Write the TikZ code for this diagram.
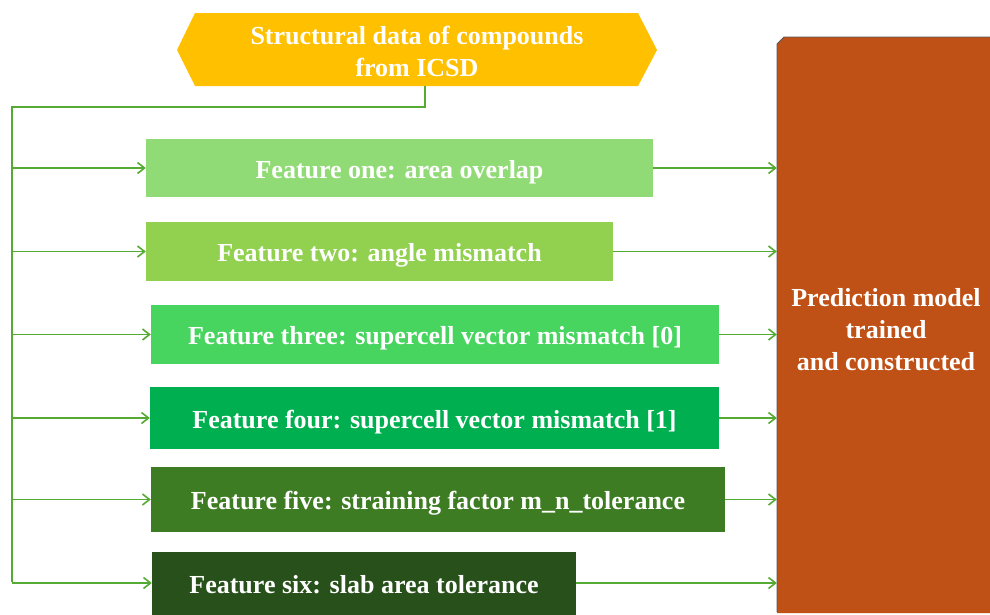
\documentclass[tikz,border=0pt]{standalone}
\usepackage{fontspec}
\setmainfont{Liberation Serif}
\usetikzlibrary{arrows.meta}
\definecolor{hexc}{HTML}{FFC000}
\definecolor{cone}{HTML}{91DB76}
\definecolor{ctwo}{HTML}{92D050}
\definecolor{cthree}{HTML}{47D45F}
\definecolor{cfour}{HTML}{00B050}
\definecolor{cfive}{HTML}{3E7C24}
\definecolor{csix}{HTML}{27501A}
\definecolor{modc}{HTML}{BF5016}
\definecolor{linec}{HTML}{55AA33}
\tikzset{
  fbox/.style={inner sep=0pt, text=white, font=\fontsize{26}{30}\selectfont\bfseries},
  fline/.style={fbox, text height=20pt, text depth=0pt},
  conn/.style={draw=linec, line width=1.8pt},
  arr/.style={conn, -{Straight Barb[length=7pt,width=11pt,line width=1.6pt]}},
}
\begin{document}
\begin{tikzpicture}[x=1pt,y=-1pt]
\useasboundingbox (0,0) rectangle (990,614);
% source hexagon
\node (src) [inner sep=0pt, minimum width=480, minimum height=73] at (417,49.5) {};
\fill[hexc] (177,50) -- (195,13) -- (638,13) -- (657,50) -- (638,86) -- (195,86) -- cycle;
\node[fbox, align=center, font=\fontsize{26}{32}\selectfont\bfseries] at (417,51) {Structural data of compounds\\from ICSD};
% model box
\node (model) [inner sep=0pt, minimum width=218, minimum height=576] at (886,325) {};
\fill[modc] (777,44) -- (784,37) -- (995,37) -- (995,613) -- (777,613) -- cycle;
\draw[gray!70!black, line width=0.8pt] (777,612) -- (777,44) -- (784,37) -- (995,37);
\node[fbox, align=center, font=\fontsize{26}{32}\selectfont\bfseries] at (886,330) {Prediction model\\trained\\and constructed};
% feature boxes
\fill[cone]   (146,139) rectangle (653,197);
\fill[ctwo]   (146,222) rectangle (613,281);
\fill[cthree] (151,305) rectangle (719,364);
\fill[cfour]  (150,387) rectangle (719,449);
\fill[cfive]  (151,467) rectangle (725,532);
\fill[csix]   (152,552) rectangle (576,620);
\node (f1) [fline, minimum width=507, minimum height=58] at (399.5,168) {Feature one: area overlap};
\node (f2) [fline, minimum width=467, minimum height=59] at (379.5,251.5) {Feature two: angle mismatch};
\node (f3) [fline, minimum width=568, minimum height=59] at (435,334.5) {Feature three: supercell vector mismatch [0]};
\node (f4) [fline, minimum width=569, minimum height=62] at (434.5,418) {Feature four: supercell vector mismatch [1]};
\node (f5) [fline, minimum width=574, minimum height=65] at (438,499.5) {Feature five: straining factor m\_n\_tolerance};
\node (f6) [fline, minimum width=424, minimum height=58] at (364,583) {Feature six: slab area tolerance};
% trunk
\coordinate (j) at (425,86);
\coordinate (t) at (12,107);
\coordinate (tb) at (12,582);
\draw[conn] (j) |- (t) -- (tb);
\draw[arr] (t |- f1.west) -- (f1.west);
\draw[arr] (t |- f2.west) -- (f2.west);
\draw[arr] (t |- f3.west) -- (f3.west);
\draw[arr] (t |- f4.west) -- (f4.west);
\draw[arr] (t |- f5.west) -- (f5.west);
\draw[arr] (t |- f6.west) -- (f6.west);
% to model
\draw[arr] (f1.east) -- (model.west |- f1.east);
\draw[arr] (f2.east) -- (model.west |- f2.east);
\draw[arr] (f3.east) -- (model.west |- f3.east);
\draw[arr] (f4.east) -- (model.west |- f4.east);
\draw[arr] (f5.east) -- (model.west |- f5.east);
\draw[arr] (f6.east) -- (model.west |- f6.east);
\end{tikzpicture}
\end{document}
